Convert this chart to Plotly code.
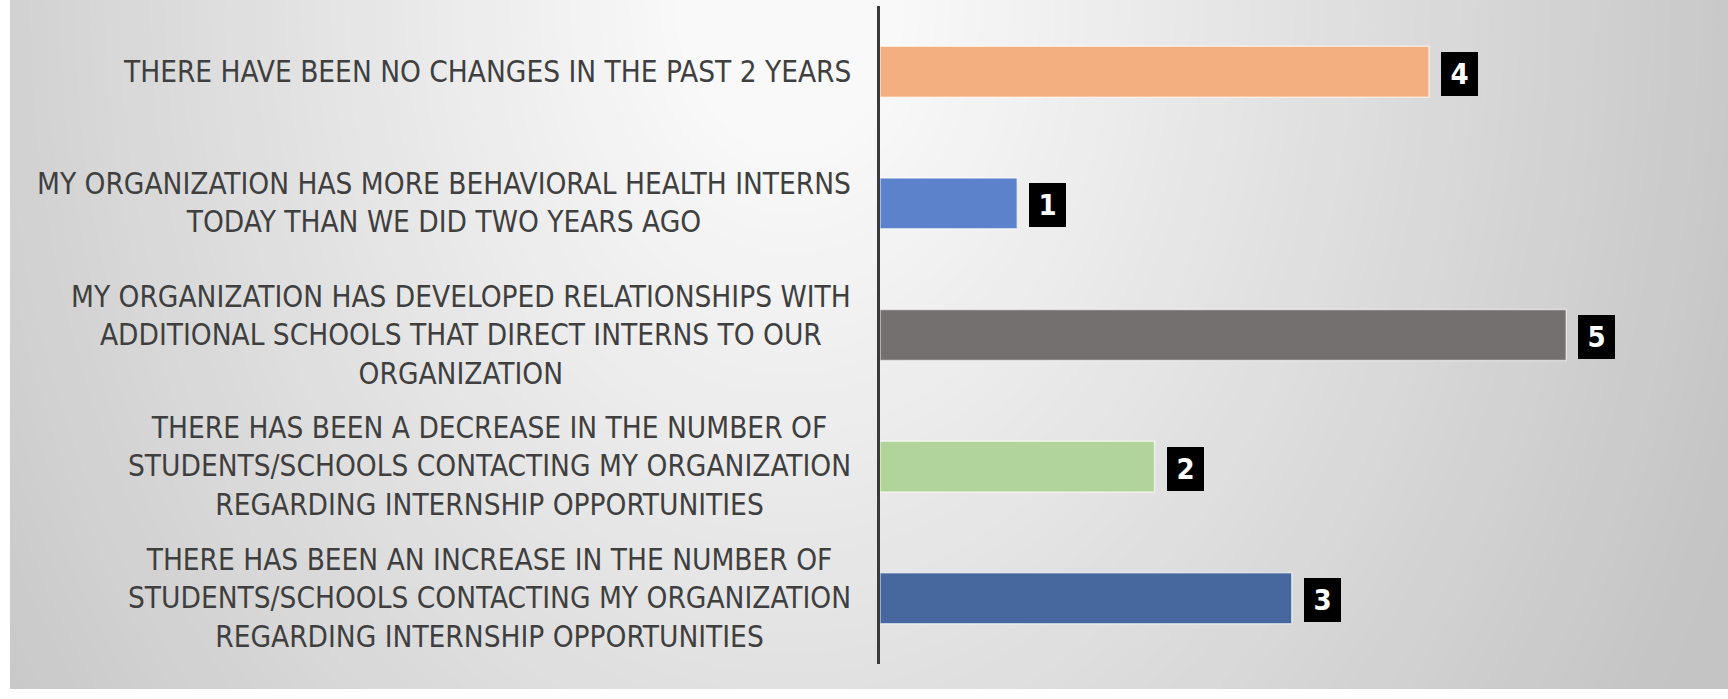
import plotly.graph_objects as go

# ---- data ----
categories = [
    "THERE HAVE BEEN NO CHANGES IN THE PAST 2 YEARS",
    "MY ORGANIZATION HAS MORE BEHAVIORAL HEALTH INTERNS<br>TODAY THAN WE DID TWO YEARS AGO",
    "MY ORGANIZATION HAS DEVELOPED RELATIONSHIPS WITH<br>ADDITIONAL SCHOOLS THAT DIRECT INTERNS TO OUR<br>ORGANIZATION",
    "THERE HAS BEEN A DECREASE IN THE NUMBER OF<br>STUDENTS/SCHOOLS CONTACTING MY ORGANIZATION<br>REGARDING INTERNSHIP OPPORTUNITIES",
    "THERE HAS BEEN AN INCREASE IN THE NUMBER OF<br>STUDENTS/SCHOOLS CONTACTING MY ORGANIZATION<br>REGARDING INTERNSHIP OPPORTUNITIES",
]
values = [4, 1, 5, 2, 3]
bar_colors = ["#F4AF80", "#5B82CA", "#757070", "#B0D49A", "#46689F"]

W, H = 1728, 699
ML, MR, MT, MB = 880, 10, 6, 35
PW, PH = W - ML - MR, H - MT - MB

fig = go.Figure()
fig.add_trace(go.Bar(
    x=values, y=categories, orientation="h",
    marker=dict(color=bar_colors, line=dict(color="rgba(255,255,255,0.6)", width=1.5)),
    hoverinfo="skip", showlegend=False,
))

# category labels (centered multi-line blocks, right-aligned to the axis)
for cat in categories:
    fig.add_annotation(
        x=0, xref="paper", y=cat, yref="y", text=cat, showarrow=False,
        xanchor="right", yanchor="middle", align="center", xshift=-27,
        font=dict(family="DejaVu Sans Condensed, Liberation Sans Narrow, sans-serif", size=29.5, color="#3f3f3f"),
    )

# value labels in black boxes
for cat, v in zip(categories, values):
    fig.add_annotation(
        x=v, xref="x", y=cat, yref="y", text=str(v), showarrow=False,
        xanchor="left", yanchor="middle", xshift=12, yshift=-2,
        width=37, height=44, bgcolor="#000000", borderwidth=0, borderpad=0,
        align="center", valign="middle",
        font=dict(family="DejaVu Sans Condensed, Liberation Sans Narrow, sans-serif", size=29, color="#FFFFFF", weight="bold"),
    )

# background radial gradient (decorative)
def px_x(p):
    return (p - ML) / PW

def px_y(p):
    return (H - MB - p) / PH

shapes = []
cx, cy = 790, 0
r = 1300
while r > 0:
    drop = max(0.0, r - 110) * 0.058
    lvl = int(round(max(196, 249 - drop)))
    col = f"rgb({lvl},{lvl},{lvl})"
    ry = r / 0.75
    shapes.append(dict(type="circle", xref="paper", yref="paper", layer="below",
                       x0=px_x(cx - r), x1=px_x(cx + r), y0=px_y(cy + ry), y1=px_y(cy - ry),
                       fillcolor=col, line=dict(width=0)))
    r -= 15
# white strips at left and bottom
shapes.append(dict(type="rect", xref="paper", yref="paper", layer="below",
                   x0=px_x(-5), x1=px_x(10), y0=px_y(H + 5), y1=px_y(-5),
                   fillcolor="#FFFFFF", line=dict(width=0)))
shapes.append(dict(type="rect", xref="paper", yref="paper", layer="below",
                   x0=px_x(-5), x1=px_x(W + 5), y0=px_y(H + 5), y1=px_y(689),
                   fillcolor="#FFFFFF", line=dict(width=0)))

fig.update_layout(
    width=W, height=H,
    margin=dict(l=ML, r=MR, t=MT, b=MB, pad=0),
    paper_bgcolor="#FFFFFF", plot_bgcolor="rgba(0,0,0,0)",
    bargap=0.613,
    shapes=shapes,
    xaxis=dict(range=[0, PW / 137.25], visible=False, showgrid=False, zeroline=False, fixedrange=True),
    yaxis=dict(autorange="reversed", showticklabels=False, ticks="", showgrid=False,
               showline=True, linecolor="#3a3a3a", linewidth=3, zeroline=False, fixedrange=True),
)

fig.write_html("out.html", config={"displayModeBar": False})
